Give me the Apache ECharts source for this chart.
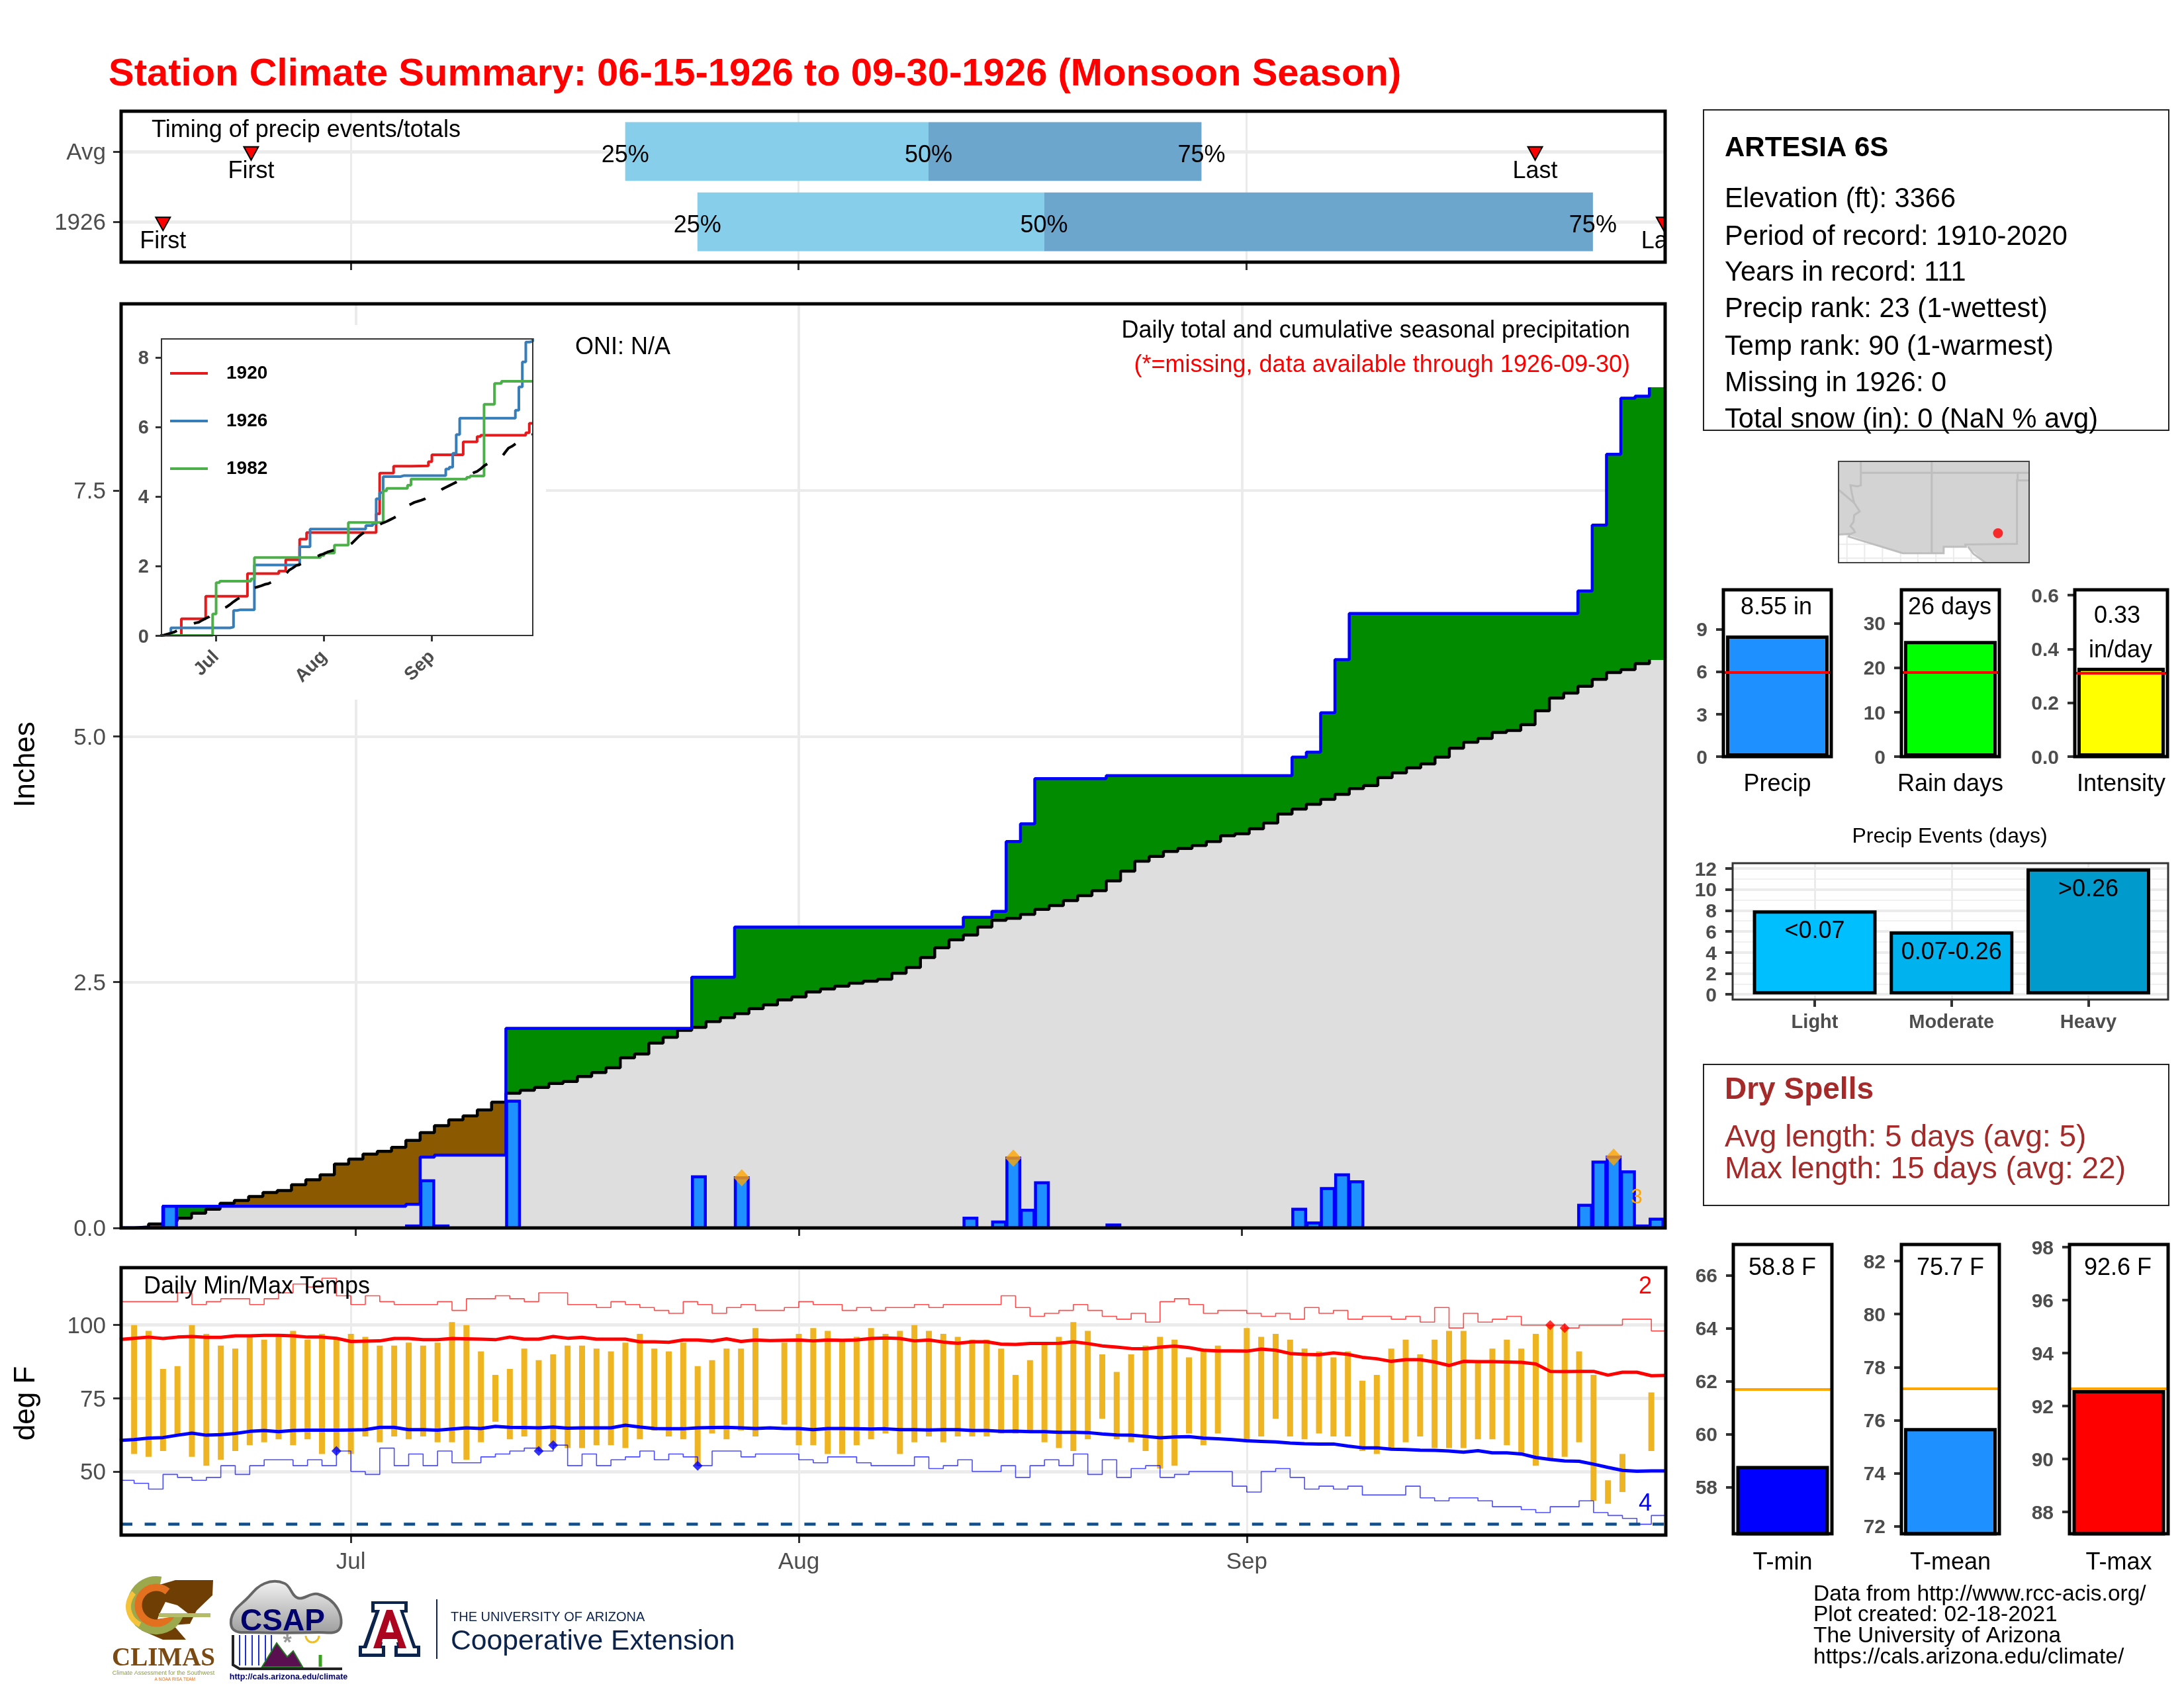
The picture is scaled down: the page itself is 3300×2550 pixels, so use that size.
<!DOCTYPE html>
<html>
<head>
<meta charset="utf-8">
<title>Station Climate Summary</title>
<script src="https://cdn.jsdelivr.net/npm/echarts@6/dist/echarts.min.js"></script>
<style>
  html, body { margin: 0; padding: 0; background: #fff; }
  #chart { width: 3300px; height: 2550px; }
</style>
</head>
<body>
<div id="chart"></div>
<script>
// month ticks, day 0 = June 15
var monthDays = [16, 47, 78]
var monthNames = ['Jul', 'Aug', 'Sep']

// timing of precip events (day of season)
var timingNames = ['1926', 'Avg']
var timingRow = [0, 1]
var timingFirst = [3, 9.1]
var timingLast = [106.9, 98]
var timing25 = [40, 35]
var timing50 = [64, 56]
var timing75 = [102, 74.9]

// daily precip 1926 (inches)
var dailyPrecip = [
  0, 0, 0, 0.22, 0, 0, 0, 0, 0, 0,
  0, 0, 0, 0, 0, 0, 0, 0, 0, 0,
  0.02, 0.48, 0.02, 0, 0, 0, 0, 1.29, 0, 0,
  0, 0, 0, 0, 0, 0, 0, 0, 0, 0,
  0.52, 0, 0, 0.51, 0, 0, 0, 0, 0, 0,
  0, 0, 0, 0, 0, 0, 0, 0, 0, 0.1,
  0, 0.06, 0.71, 0.18, 0.46, 0, 0, 0, 0, 0.03,
  0, 0, 0, 0, 0, 0, 0, 0, 0, 0,
  0, 0, 0.19, 0.05, 0.4, 0.54, 0.47, 0, 0, 0,
  0, 0, 0, 0, 0, 0, 0, 0, 0, 0,
  0, 0, 0.23, 0.67, 0.72, 0.57, 0.02, 0.09
]
// cumulative 1926
var cum1926 = [
  0, 0, 0, 0.22, 0.22, 0.22, 0.22, 0.22, 0.22, 0.22,
  0.22, 0.22, 0.22, 0.22, 0.22, 0.22, 0.22, 0.22, 0.22, 0.22,
  0.24, 0.72, 0.74, 0.74, 0.74, 0.74, 0.74, 2.03, 2.03, 2.03,
  2.03, 2.03, 2.03, 2.03, 2.03, 2.03, 2.03, 2.03, 2.03, 2.03,
  2.55, 2.55, 2.55, 3.06, 3.06, 3.06, 3.06, 3.06, 3.06, 3.06,
  3.06, 3.06, 3.06, 3.06, 3.06, 3.06, 3.06, 3.06, 3.06, 3.16,
  3.16, 3.22, 3.93, 4.11, 4.57, 4.57, 4.57, 4.57, 4.57, 4.6,
  4.6, 4.6, 4.6, 4.6, 4.6, 4.6, 4.6, 4.6, 4.6, 4.6,
  4.6, 4.6, 4.79, 4.84, 5.24, 5.78, 6.25, 6.25, 6.25, 6.25,
  6.25, 6.25, 6.25, 6.25, 6.25, 6.25, 6.25, 6.25, 6.25, 6.25,
  6.25, 6.25, 6.48, 7.15, 7.87, 8.44, 8.46, 8.55
]
// cumulative long term average
var cumAvg = [
  0, 0.01, 0.04, 0.07, 0.1, 0.15, 0.19, 0.25, 0.28, 0.32,
  0.36, 0.38, 0.44, 0.49, 0.54, 0.65, 0.7, 0.75, 0.78, 0.82,
  0.89, 0.97, 1.04, 1.1, 1.14, 1.2, 1.28, 1.37, 1.4, 1.43,
  1.47, 1.49, 1.54, 1.58, 1.63, 1.73, 1.77, 1.88, 1.94, 2.01,
  2.04, 2.1, 2.14, 2.18, 2.23, 2.27, 2.32, 2.35, 2.4, 2.43,
  2.46, 2.49, 2.51, 2.53, 2.59, 2.65, 2.75, 2.85, 2.93, 2.98,
  3.06, 3.13, 3.15, 3.19, 3.24, 3.28, 3.33, 3.38, 3.43, 3.53,
  3.63, 3.73, 3.78, 3.83, 3.86, 3.89, 3.93, 3.99, 4.01, 4.06,
  4.12, 4.21, 4.26, 4.31, 4.36, 4.41, 4.47, 4.5, 4.58, 4.63,
  4.68, 4.72, 4.79, 4.88, 4.94, 4.98, 5.04, 5.06, 5.12, 5.26,
  5.39, 5.44, 5.51, 5.58, 5.65, 5.68, 5.74, 5.78
]
// record daily precip markers [day, inches]
var precipRecords = [[43, 0.51], [62, 0.71], [104, 0.72]]

// inset analog years, change points [day, cumulative inches]
var steps1920 = [[0, 0], [6, 0.48], [13, 1.13], [25, 1.78], [34, 1.85], [36, 2.18], [40, 2.77], [42, 2.96], [62, 3.5], [63, 4.67], [67, 4.87], [72, 4.88], [77, 5.0], [78, 5.2], [87, 5.57], [91, 5.72], [92, 5.76], [105, 5.83], [106, 6.1], [107, 6.1]]
var steps1982 = [[0, 0], [15, 0.62], [16, 1.52], [17, 1.56], [26, 1.63], [27, 2.24], [46, 2.3], [47, 2.37], [50, 2.6], [54, 3.25], [64, 4.16], [65, 4.23], [71, 4.32], [72, 4.5], [88, 4.55], [89, 4.59], [93, 6.65], [96, 7.25], [98, 7.31], [107, 7.31]]

// daily temps (F)
var tempHigh = [
  null, 100, 98, 85, 86, 100, 97, 93, 92, 96,
  95, 96, 98, 95, 97, 95, 97, 96, 93, 93,
  94, 93, 94, 101, 100, 91, 83, 85, 92, 88,
  90, 93, 93, 92, 91, 94, 97, 92, 91, 94,
  86, 88, 92, 92, 99, null, 94, 97, 99, 98,
  95, 96, 99, 97, 98, 100, 98, 97, 96, 95,
  95, 92, 83, 88, 94, 96, 101, 98, 90, 84,
  90, 93, 96, 95, 89, 92, 93, null, 99, 96,
  97, 95, 92, 91, 89, 91, 81, 83, 92, 95,
  90, 95, 98, 98, 88, 92, 95, 92, 97, 100,
  99, 91, 83, 47, 56, null, 77, null
]
var tempLow = [
  null, 56, 55, 57, 62, 55, 52, 54, 57, 59,
  60, 61, 59, 61, 56, 57, 56, 62, 60, 62,
  61, 62, 60, 60, 54, 60, 67, 61, 62, 57,
  59, 58, 58, 59, 59, 58, 61, 64, 62, 61,
  52, 63, 61, 64, 62, null, 66, 59, 59, 56,
  56, 59, 61, 63, 56, 60, 62, 60, 62, 62,
  62, 63, 63, 64, 60, 58, 57, 61, 68, 61,
  60, 57, 51, 52, 63, 59, 63, null, 60, 62,
  68, 62, 61, 63, 62, 62, 57, 56, 58, 60,
  62, 58, 58, 58, 61, 61, 59, 56, 52, 54,
  55, 60, 40, 39, 43, null, 57, null
]
var normalHigh = [
  95.1, 95.5, 95.9, 95.4, 95.9, 96.1, 95.8, 95.8, 96.3, 96.3,
  96.5, 96.5, 96.3, 95.9, 95.9, 95.5, 94.4, 94.5, 94.6, 95.4,
  95.4, 95.0, 95.0, 95.4, 95.3, 95.2, 95.0, 95.9, 95.2, 95.2,
  96.1, 95.5, 95.8, 95.2, 95.2, 95.2, 94.3, 94.3, 94.1, 94.9,
  94.9, 94.5, 95.3, 94.4, 94.9, 94.7, 94.8, 94.9, 94.6, 94.9,
  94.8, 94.9, 95.4, 95.6, 95.4, 94.6, 94.9, 94.2, 93.8, 94.3,
  94.3, 93.5, 93.4, 93.7, 93.7, 93.8, 94.3, 93.7, 92.9, 92.5,
  92.0, 91.9, 92.5, 92.8, 92.3, 91.4, 91.2, 91.2, 91.1, 91.8,
  91.4, 90.3, 90.0, 89.9, 90.5, 90.0, 89.0, 88.5, 87.6, 88.2,
  88.2, 87.4, 86.2, 87.6, 87.5, 87.5, 87.4, 87.3, 86.7, 84.2,
  84.1, 84.2, 84.2, 82.9, 83.9, 83.9, 82.7, 82.8
]
var normalLow = [
  60.6, 60.9, 61.4, 61.6, 62.4, 63.1, 62.4, 62.6, 63.0, 63.7,
  64.0, 63.6, 64.0, 64.1, 64.1, 64.1, 64.2, 64.3, 65.1, 65.1,
  64.3, 64.3, 64.1, 64.5, 64.9, 64.7, 65.4, 65.1, 65.0, 64.9,
  65.2, 64.8, 64.9, 64.9, 64.9, 65.8, 65.2, 64.7, 64.6, 64.6,
  64.9, 65.0, 65.1, 64.9, 64.7, 64.9, 64.7, 64.7, 64.3, 64.7,
  64.7, 64.6, 64.5, 64.6, 64.3, 64.3, 64.2, 64.3, 64.3, 64.0,
  64.0, 63.7, 63.8, 63.6, 63.6, 63.4, 63.4, 63.3, 62.8, 62.5,
  62.4, 62.0, 61.5, 61.8, 61.9, 61.4, 61.2, 60.9, 60.5, 60.3,
  60.1, 59.7, 59.5, 59.4, 59.4, 58.7, 58.1, 58.1, 57.6, 57.5,
  57.3, 57.2, 57.0, 56.6, 57.1, 56.4, 56.4, 56.0, 54.8, 54.1,
  53.6, 53.5, 52.5, 51.4, 50.4, 50.1, 50.2, 50.2
]
var recordHigh = [
  108, 108, 108, 108, 111, 107, 108, 109, 109, 107,
  109, 111, 114, 113, 116, 110, 107, 110, 108, 107,
  107, 107, 108, 105, 109, 109, 110, 109, 108, 111,
  111, 107, 107, 106, 108, 107, 106, 105, 104, 108,
  107, 104, 106, 107, 105, 105, 106, 108, 107, 107,
  105, 106, 105, 106, 106, 107, 106, 107, 107, 107,
  107, 110, 106, 103, 104, 105, 107, 105, 103, 102,
  104, 101, 108, 109, 107, 104, 105, 105, 104, 103,
  104, 102, 106, 104, 105, 102, 103, 103, 102, 103,
  101, 106, 99, 104, 101, 102, 103, 100, 100, 100,
  99, 100, 100, 100, 102, 102, 98, 98
]
var recordLow = [
  47, 46, 44, 49, 48, 47, 48, 52, 49, 52,
  54, 54, 52, 54, 52, 57, 50, 49, 58, 52,
  56, 52, 57, 53, 53, 55, 56, 57, 58, 57,
  59, 52, 56, 52, 54, 55, 57, 54, 56, 55,
  52, 57, 57, 55, 56, 56, 56, 54, 53, 55,
  55, 53, 52, 52, 52, 55, 51, 52, 54, 50,
  50, 52, 48, 52, 54, 52, 56, 49, 54, 48,
  51, 52, 48, 49, 50, 50, 50, 45, 43, 50,
  51, 48, 44, 45, 44, 45, 42, 42, 42, 45,
  41, 40, 41, 41, 40, 38, 38, 37, 36, 38,
  38, 40, 36, 35, 34, 32, 35, 35
]
var recordLowHits = [[15, 57], [29, 57], [30, 59], [40, 52]]
var recordHighHits = [[99, 100], [100, 99]]
var freezeLine = 32

// summary bars
var precipTotal = 8.55, precipNormal = 5.95
var rainDays = 26, rainDaysNormal = 18.9
var intensity = 0.33, intensityNormal = 0.313
var eventNames = ['Light', 'Moderate', 'Heavy']
var eventDays = [8, 6, 12]
var eventLabels = ['<0.07', '0.07-0.26', '>0.26']
var tMin = 58.8, tMinNormal = 61.7
var tMean = 75.7, tMeanNormal = 77.2
var tMax = 92.6, tMaxNormal = 92.65

// locator map, polygons in map units
var mapLand = [[54, 385], [100, 385], [345, 467], [530, 467], [530, 438], [640, 438], [720, 510], [917, 510], [917, 52], [54, 52]]
var mapBorders = [
  [[155, 52], [155, 160], [140, 165], [108, 160], [115, 200], [125, 240], [150, 278], [125, 295], [122, 325], [108, 345], [122, 360], [128, 372], [105, 382], [100, 392], [345, 467], [530, 467], [530, 438], [630, 438], [628, 428], [862, 425], [862, 138], [917, 138]],
  [[155, 104], [917, 104]],
  [[865, 104], [865, 138]],
  [[476, 52], [476, 467]],
  [[54, 180], [125, 240]],
  [[54, 383], [105, 380]],
  [[640, 438], [665, 470], [720, 510]]
]
var mapGridX = [92, 172, 253, 335, 413, 495, 575, 655]
var mapGridY = [427, 490]
var stationPoint = [776, 377]

var FONT = 'Liberation Sans'
var GRID = '#EBEBEB'
var AXIS_TEXT = '#4D4D4D'

var chart = echarts.init(document.getElementById('chart'))

function gridBox(l, t, r, b) {
  return { left: l, top: t, width: r - l, height: b - t, containLabel: false }
}

function valueAxis(gridIndex, min, max, ticks, fmt, extra) {
  var ax = {
    type: 'value',
    gridIndex: gridIndex,
    min: min,
    max: max,
    axisLine: { show: false, onZero: false },
    axisTick: { show: true, customValues: ticks, length: 12, lineStyle: { color: '#333', width: 3 } },
    axisLabel: {
      show: true,
      customValues: ticks,
      formatter: fmt,
      color: AXIS_TEXT,
      fontFamily: FONT,
      fontSize: 35,
      margin: 23,
      hideOverlap: false,
      showMinLabel: true,
      showMaxLabel: true
    },
    splitLine: { show: false }
  }
  return Object.assign(ax, extra || {})
}

function gridLines(width) {
  return { show: true, lineStyle: { color: GRID, width: width } }
}

function monthName(v) {
  return monthNames[monthDays.indexOf(v)]
}

var grids = []
var xAxes = []
var yAxes = []
var series = []
var texts = []

function txt(s, x, y, font, fill, align, rot) {
  texts.push({
    type: 'text',
    x: x,
    y: rot ? y : y + 3,
    rotation: rot || 0,
    z: 20,
    silent: true,
    style: { text: s, font: font, fill: fill, align: align || 'left', textAlign: align || 'left', verticalAlign: 'middle', textVerticalAlign: 'middle' }
  })
}

function frame(l, t, r, b, w, color, fill) {
  texts.push({
    type: 'rect',
    z: fill ? 1 : 15,
    silent: true,
    shape: { x: l, y: t, width: r - l, height: b - t },
    style: { fill: fill || 'none', stroke: color, lineWidth: w }
  })
}

// ---- timing panel
grids.push(gridBox(183, 168, 2516, 396))
xAxes.push(valueAxis(0, 0.1, 107, monthDays, monthName, { axisLabel: { show: false }, splitLine: gridLines(3) }))
yAxes.push(valueAxis(0, -0.572, 1.572, timingRow, function (v) { return timingNames[v] }, { splitLine: gridLines(5) }))
frame(183, 168, 2516, 396, 5, '#000')

series.push({
  type: 'custom',
  xAxisIndex: 0,
  yAxisIndex: 0,
  z: 3,
  clip: true,
  encode: { x: 1, y: 0 },
  data: timingRow.map(function (r, i) {
    return [r, timing25[i], timing50[i], timing75[i]]
  }),
  renderItem: function (params, api) {
    var row = api.value(0)
    var h = api.size([0, 0.835])[1]
    var a = api.coord([api.value(1), row])
    var b = api.coord([api.value(2), row])
    var c = api.coord([api.value(3), row])
    var pct = function (p, s) {
      return { type: 'text', x: p[0], y: p[1] + 6, style: { text: s, font: '36px ' + FONT, fill: '#000', align: 'center', verticalAlign: 'middle' } }
    }
    return {
      type: 'group',
      children: [
        { type: 'rect', shape: { x: a[0], y: a[1] - h / 2, width: b[0] - a[0], height: h }, style: { fill: '#87CEEB' } },
        { type: 'rect', shape: { x: b[0], y: b[1] - h / 2, width: c[0] - b[0], height: h }, style: { fill: '#6CA6CD' } },
        pct(a, '25%'),
        pct(b, '50%'),
        pct(c, '75%')
      ]
    }
  }
})
var timingMarks = []
timingRow.forEach(function (r, i) {
  timingMarks.push([timingFirst[i], r, 0])
  timingMarks.push([timingLast[i], r, 1])
})
series.push({
  type: 'custom',
  xAxisIndex: 0,
  yAxisIndex: 0,
  z: 4,
  clip: true,
  encode: { x: 0, y: 1 },
  data: timingMarks,
  renderItem: function (params, api) {
    var p = api.coord([api.value(0), api.value(1)])
    return {
      type: 'group',
      children: [
        { type: 'polygon', shape: { points: [[p[0] - 11, p[1] - 7], [p[0] + 11, p[1] - 7], [p[0], p[1] + 13]] }, style: { fill: '#FF0000', stroke: '#000', lineWidth: 2 } },
        { type: 'text', x: p[0], y: p[1] + 30, style: { text: api.value(2) ? 'Last' : 'First', font: '36px ' + FONT, fill: '#000', align: 'center', verticalAlign: 'middle' } }
      ]
    }
  }
})

// ---- main precip panel
grids.push(gridBox(183, 459, 2516, 1855))
xAxes.push(valueAxis(1, -0.42, 107.6, monthDays, monthName, { axisLabel: { show: false }, splitLine: gridLines(4) }))
yAxes.push(valueAxis(1, 0, 9.4, [0, 2.5, 5, 7.5], function (v) { return v.toFixed(1) }, { splitLine: gridLines(4) }))
frame(183, 459, 2516, 1855, 5, '#000')

series.push({
  type: 'custom',
  xAxisIndex: 1,
  yAxisIndex: 1,
  z: 2,
  clip: true,
  encode: { x: 0, y: 1 },
  data: cumAvg.map(function (v, i) { return [i, v, cum1926[i]] }),
  renderItem: function (params, api) {
    var i = api.value(0)
    var a = api.value(1)
    var c = api.value(2)
    var x0 = Math.round(api.coord([i - 0.5, 0])[0])
    var x1 = Math.round(api.coord([i + 0.5, 0])[0])
    var y0 = Math.round(api.coord([0, 0])[1])
    var yl = Math.round(api.coord([0, Math.min(a, c)])[1])
    var yh = Math.round(api.coord([0, Math.max(a, c)])[1])
    return {
      type: 'group',
      children: [
        { type: 'rect', shape: { x: x0, y: yl, width: x1 - x0, height: y0 - yl }, style: { fill: '#DEDEDE' } },
        { type: 'rect', shape: { x: x0, y: yh, width: x1 - x0, height: yl - yh }, style: { fill: c >= a ? '#008B00' : '#8B5A00' } }
      ]
    }
  }
})
series.push({
  type: 'line',
  xAxisIndex: 1,
  yAxisIndex: 1,
  z: 3,
  step: 'end',
  symbol: 'none',
  lineStyle: { color: '#000', width: 4.5 },
  data: cumAvg.map(function (v, i) { return [i - 0.5, v] })
})
series.push({
  type: 'line',
  xAxisIndex: 1,
  yAxisIndex: 1,
  z: 3,
  step: 'end',
  symbol: 'none',
  lineStyle: { color: '#0000FF', width: 4.5 },
  data: cum1926.map(function (v, i) { return [i - 0.5, v] })
})
series.push({
  type: 'custom',
  xAxisIndex: 1,
  yAxisIndex: 1,
  z: 4,
  clip: true,
  encode: { x: 0, y: 1 },
  data: dailyPrecip.map(function (v, i) { return [i, v] }).filter(function (d) { return d[1] > 0 }),
  renderItem: function (params, api) {
    var top = api.coord([api.value(0), api.value(1)])
    var base = api.coord([api.value(0), 0])
    var w = api.size([0.9, 0])[0]
    return { type: 'rect', shape: { x: top[0] - w / 2, y: top[1], width: w, height: base[1] - top[1] }, style: { fill: '#1E90FF', stroke: '#0000FF', lineWidth: 4.5 } }
  }
})
series.push({
  type: 'scatter',
  xAxisIndex: 1,
  yAxisIndex: 1,
  z: 5,
  symbol: 'diamond',
  symbolSize: [24, 26],
  itemStyle: { color: '#FFA500' },
  data: precipRecords
})
txt('Inches', 40, 1155, '44px ' + FONT, '#000', 'center', Math.PI / 2)
txt('ONI: N/A', 869, 522, '36px ' + FONT, '#000')
txt('Daily total and cumulative seasonal precipitation', 2463, 497, '36px ' + FONT, '#000', 'right')
txt('(*=missing, data available through 1926-09-30)', 2463, 549, '36px ' + FONT, '#FF0000', 'right')
txt('3', 2473, 1806, '32px ' + FONT, '#FFA500', 'center')

// ---- temps panel
grids.push(gridBox(183, 1915, 2517, 2319))
xAxes.push(valueAxis(2, 0.1, 107, monthDays, monthName, { splitLine: gridLines(3) }))
xAxes[2].axisLabel.margin = 24
yAxes.push(valueAxis(2, 28.3, 119.6, [50, 75, 100], function (v) { return String(v) }, { splitLine: gridLines(5) }))
frame(183, 1915, 2517, 2319, 5, '#000')

var tempBars = []
tempHigh.forEach(function (h, i) {
  if (h !== null) tempBars.push([i, tempLow[i], h])
})
series.push({
  type: 'custom',
  xAxisIndex: 2,
  yAxisIndex: 2,
  z: 2,
  clip: true,
  encode: { x: 0, y: 2 },
  data: tempBars,
  renderItem: function (params, api) {
    var lo = api.coord([api.value(0), api.value(1)])
    var hi = api.coord([api.value(0), api.value(2)])
    return { type: 'rect', shape: { x: lo[0] - 4.5, y: hi[1], width: 9, height: lo[1] - hi[1] }, style: { fill: '#EEB422' } }
  },
  markLine: {
    silent: true,
    symbol: 'none',
    animation: false,
    label: { show: false },
    lineStyle: { color: '#104E8B', width: 4.5, type: [17, 18.6] },
    data: [{ yAxis: freezeLine }]
  }
})
function tempLine(values, color, width, step, opacity) {
  series.push({
    type: 'line',
    xAxisIndex: 2,
    yAxisIndex: 2,
    z: 3,
    step: step,
    symbol: 'none',
    lineStyle: { color: color, width: width, opacity: opacity },
    data: values.map(function (v, i) { return [i, v] })
  })
}
tempLine(recordHigh, '#FF0000', 1.6, 'end', 0.7)
tempLine(recordLow, '#0000FF', 1.6, 'end', 0.7)
tempLine(normalHigh, '#FF0000', 5, false, 1)
tempLine(normalLow, '#0000FF', 5, false, 1)
series.push({
  type: 'scatter', xAxisIndex: 2, yAxisIndex: 2, z: 5, symbol: 'diamond', symbolSize: 15,
  itemStyle: { color: '#0000FF' }, data: recordLowHits
})
series.push({
  type: 'scatter', xAxisIndex: 2, yAxisIndex: 2, z: 5, symbol: 'diamond', symbolSize: 15,
  itemStyle: { color: '#FF0000' }, data: recordHighHits
})
txt('deg F', 40, 2120, '44px ' + FONT, '#000', 'center', Math.PI / 2)
txt('Daily Min/Max Temps', 217, 1941, '36px ' + FONT, '#000')
txt('2', 2486, 1941, '36px ' + FONT, '#FF0000', 'center')
txt('4', 2486, 2269, '36px ' + FONT, '#0000FF', 'center')

// ---- inset of analog years
grids.push(gridBox(244, 512, 805, 960))
xAxes.push(valueAxis(3, 0.3, 107, monthDays, monthName, {
  z: 6,
  axisTick: { show: true, customValues: monthDays, length: 9, lineStyle: { color: '#333', width: 3 } },
  axisLabel: { show: true, customValues: monthDays, formatter: monthName, color: AXIS_TEXT, fontFamily: FONT, fontWeight: 'bold', fontSize: 28, rotate: 45, margin: 28 }
}))
yAxes.push(valueAxis(3, 0, 8.53, [0, 2, 4, 6, 8], function (v) { return String(v) }, {
  z: 6,
  axisTick: { show: true, customValues: [0, 2, 4, 6, 8], length: 9, lineStyle: { color: '#333', width: 3 } },
  axisLabel: { show: true, customValues: [0, 2, 4, 6, 8], formatter: function (v) { return String(v) }, color: AXIS_TEXT, fontFamily: FONT, fontWeight: 'bold', fontSize: 29, margin: 19 }
}))
frame(180, 491, 825, 1057, 0, 'none', '#fff')
frame(244, 512, 805, 960, 2, '#333')

function insetLine(name, data, color, dash) {
  series.push({
    type: 'line',
    name: name,
    xAxisIndex: 3,
    yAxisIndex: 3,
    z: dash ? 8 : 7,
    step: dash ? false : 'end',
    symbol: 'none',
    lineStyle: { color: color, width: 4, type: dash ? [26, 28] : 'solid' },
    itemStyle: { color: color },
    data: data
  })
}
insetLine('1920', steps1920, '#E41A1C')
insetLine('1926', cum1926.map(function (v, i) { return [i, v] }), '#377EB8')
insetLine('1982', steps1982, '#4DAF4A')
insetLine('avg', cumAvg.map(function (v, i) { return [i, v] }), '#000', true)

// ---- single value bars
function statPanel(l, r, top, bottom, min, max, ticks, fmt, name, value, color, normal, normalColor, barW, margin) {
  var g = grids.length
  grids.push(gridBox(l, top, r, bottom))
  xAxes.push({
    type: 'category',
    gridIndex: g,
    data: [name],
    axisLine: { show: false, onZero: false },
    axisTick: { show: false },
    axisLabel: { color: '#000', fontFamily: FONT, fontSize: 36, margin: margin }
  })
  yAxes.push(valueAxis(g, min, max, ticks, fmt, {
    axisTick: { show: true, customValues: ticks, length: 11, lineStyle: { color: '#333', width: 4 } },
    axisLabel: { show: true, customValues: ticks, formatter: fmt, color: AXIS_TEXT, fontFamily: FONT, fontWeight: 'bold', fontSize: 30, margin: 24 }
  }))
  series.push({
    type: 'bar',
    xAxisIndex: g,
    yAxisIndex: g,
    z: 3,
    barWidth: barW,
    itemStyle: { color: color, borderColor: '#000', borderWidth: 5 },
    data: [value],
    markLine: {
      silent: true,
      symbol: 'none',
      animation: false,
      z: 6,
      label: { show: false },
      lineStyle: { color: normalColor, width: 4, type: 'solid' },
      data: [{ yAxis: normal }]
    }
  })
  frame(l, top, r, bottom, 5, '#000')
}
function intLabel(v) { return String(v) }
statPanel(2604, 2767, 891, 1143, 0, 11.78, [0, 3, 6, 9], intLabel, 'Precip', precipTotal, '#1E90FF', precipNormal, '#FF0000', 155, 24)
statPanel(2873, 3021, 891, 1143, 0, 37.5, [0, 10, 20, 30], intLabel, 'Rain days', rainDays, '#00FF00', rainDaysNormal, '#FF0000', 140, 24)
statPanel(3135, 3275, 891, 1143, 0, 0.62, [0, 0.2, 0.4, 0.6], function (v) { return v.toFixed(1) }, 'Intensity', intensity, '#FFFF00', intensityNormal, '#FF0000', 132, 24)
txt('8.55 in', 2684, 915, '36px ' + FONT, '#000', 'center')
txt('26 days', 2946, 915, '36px ' + FONT, '#000', 'center')
txt('0.33', 3199, 928, '36px ' + FONT, '#000', 'center')
txt('in/day', 3204, 980, '36px ' + FONT, '#000', 'center')

statPanel(2619, 2768, 1880, 2317, 56.235, 67.16, [58, 60, 62, 64, 66], intLabel, 'T-min', tMin, '#0000FF', tMinNormal, '#FFA500', 140, 26)
statPanel(2873, 3021, 1880, 2317, 71.71, 82.63, [72, 74, 76, 78, 80, 82], intLabel, 'T-mean', tMean, '#1E90FF', tMeanNormal, '#FFA500', 140, 26)
statPanel(3127, 3276, 1880, 2317, 87.17, 98.1, [88, 90, 92, 94, 96, 98], intLabel, 'T-max', tMax, '#FF0000', tMaxNormal, '#FFA500', 140, 26)
txt('58.8 F', 2693, 1913, '36px ' + FONT, '#000', 'center')
txt('75.7 F', 2947, 1913, '36px ' + FONT, '#000', 'center')
txt('92.6 F', 3200, 1913, '36px ' + FONT, '#000', 'center')

// ---- precip events
var evGrid = grids.length
grids.push(gridBox(2618, 1304, 3276, 1510))
xAxes.push(valueAxis(evGrid, 0.4, 3.583, [1, 2, 3], function (v) { return eventNames[v - 1] }, {
  splitLine: gridLines(3),
  axisTick: { show: true, customValues: [1, 2, 3], length: 11, lineStyle: { color: '#333', width: 4 } },
  axisLabel: { show: true, customValues: [1, 2, 3], formatter: function (v) { return eventNames[v - 1] }, color: AXIS_TEXT, fontFamily: FONT, fontWeight: 'bold', fontSize: 29, margin: 20 }
}))
yAxes.push(valueAxis(evGrid, -0.49, 12.49, [0, 2, 4, 6, 8, 10, 12], intLabel, {
  splitLine: gridLines(4),
  axisTick: { show: true, customValues: [0, 2, 4, 6, 8, 10, 12], length: 11, lineStyle: { color: '#333', width: 4 } },
  axisLabel: { show: true, customValues: [0, 2, 4, 6, 8, 10, 12], formatter: intLabel, color: AXIS_TEXT, fontFamily: FONT, fontWeight: 'bold', fontSize: 30, margin: 24 }
}))
var evColors = ['#00BFFF', '#00B2EE', '#009ACD']
series.push({
  type: 'bar',
  xAxisIndex: evGrid,
  yAxisIndex: evGrid,
  z: 3,
  barWidth: 187,
  itemStyle: { borderColor: '#000', borderWidth: 5 },
  label: {
    show: true,
    position: 'insideTop',
    distance: 14,
    color: '#000',
    fontFamily: FONT,
    fontSize: 36,
    formatter: function (p) { return eventLabels[p.dataIndex] }
  },
  data: eventDays.map(function (v, i) {
    return { value: [i + 1, v], itemStyle: { color: evColors[i] } }
  })
})
frame(2618, 1304, 3276, 1510, 3, '#333')
txt('Precip Events (days)', 2946, 1261, '32px ' + FONT, '#000', 'center')

// ---- locator map
var mapGrid = grids.length
grids.push(gridBox(2778, 697, 3066, 850))
xAxes.push({ type: 'value', gridIndex: mapGrid, min: 54, max: 917, show: false })
yAxes.push({ type: 'value', gridIndex: mapGrid, min: 52, max: 510, inverse: true, show: false })
series.push({
  type: 'custom',
  xAxisIndex: mapGrid,
  yAxisIndex: mapGrid,
  z: 2,
  clip: true,
  encode: { x: 0, y: 1 },
  data: [[100, 100]],
  renderItem: function (params, api) {
    var kids = []
    mapGridX.forEach(function (x) {
      var a = api.coord([x, 380])
      var b = api.coord([x, 510])
      kids.push({ type: 'line', shape: { x1: a[0], y1: a[1], x2: b[0], y2: b[1] }, style: { stroke: GRID, lineWidth: 2 } })
    })
    mapGridY.forEach(function (y) {
      var a = api.coord([54, y])
      var b = api.coord([720, y])
      kids.push({ type: 'line', shape: { x1: a[0], y1: a[1], x2: b[0], y2: b[1] }, style: { stroke: GRID, lineWidth: 2 } })
    })
    kids.push({ type: 'polygon', shape: { points: mapLand.map(function (p) { return api.coord(p) }) }, style: { fill: '#D3D3D3' } })
    mapBorders.forEach(function (line) {
      kids.push({ type: 'polyline', shape: { points: line.map(function (p) { return api.coord(p) }) }, style: { stroke: '#BEBEBE', fill: 'none', lineWidth: 3 } })
    })
    return { type: 'group', children: kids }
  }
})
series.push({
  type: 'scatter',
  xAxisIndex: mapGrid,
  yAxisIndex: mapGrid,
  z: 4,
  symbolSize: 15,
  itemStyle: { color: '#FF0000' },
  data: [stationPoint]
})
frame(2778, 697, 3066, 850, 2, '#444')

// odd minor grid lines of the events panel sit on a label-less second y axis
yAxes.push({
  type: 'value',
  gridIndex: evGrid,
  position: 'left',
  min: -0.49,
  max: 12.49,
  axisLine: { show: false, onZero: false },
  axisLabel: { show: false, customValues: [1, 3, 5, 7, 9, 11] },
  axisTick: { show: false, customValues: [1, 3, 5, 7, 9, 11] },
  splitLine: { show: true, lineStyle: { color: '#F0F0F0', width: 2 } }
})

// a small line box hung from the tick keeps y labels centred on their ticks
yAxes.forEach(function (ax) {
  if (ax.axisLabel && ax.axisLabel.show) {
    ax.axisLabel.verticalAlign = 'top'
    ax.axisLabel.lineHeight = 5
  }
})

// ---- text boxes
frame(2574, 166, 3277, 650, 2, '#222')
txt('ARTESIA 6S', 2606, 221, 'bold 42px ' + FONT, '#000')
var infoLines = ['Elevation (ft): 3366', 'Period of record: 1910-2020', 'Years in record: 111', 'Precip rank: 23 (1-wettest)', 'Temp rank: 90 (1-warmest)', 'Missing in 1926: 0', 'Total snow (in): 0 (NaN % avg)']
var infoY = [299, 356, 410, 465, 522, 577, 632]
infoLines.forEach(function (s, i) { txt(s, 2606, infoY[i], '41.6px ' + FONT, '#000') })

frame(2574, 1608, 3277, 1821, 2, '#222')
txt('Dry Spells', 2606, 1644, 'bold 46px ' + FONT, '#A52A2A')
txt('Avg length: 5 days (avg: 5)', 2606, 1716, '46px ' + FONT, '#A52A2A')
txt('Max length: 15 days (avg: 22)', 2606, 1764, '46px ' + FONT, '#A52A2A')

var credits = ['Data from http://www.rcc-acis.org/', 'Plot created: 02-18-2021', 'The University of Arizona', 'https://cals.arizona.edu/climate/']
var creditsY = [2406, 2437, 2469, 2501]
credits.forEach(function (s, i) { txt(s, 2740, creditsY[i], '33.5px ' + FONT, '#000') })

txt('Station Climate Summary: 06-15-1926 to 09-30-1926 (Monsoon Season)', 164, 110, 'bold 58px ' + FONT, '#FF0000')
txt('Timing of precip events/totals', 229, 194, '36px ' + FONT, '#000')

// ---- logos (plain shapes and text)
function shape(type, sh, style) {
  texts.push({ type: type, z: 5, silent: true, shape: sh, style: style })
}
// CLIMAS
shape('polygon', { points: [[322, 2387], [321, 2410], [297, 2433], [287, 2453], [262, 2455], [281, 2477], [246, 2477], [214, 2463], [198, 2433], [211, 2403], [265, 2387]] }, { fill: '#6E3E05' })
shape('arc', { cx: 236, cy: 2425, r: 38, startAngle: 0.4, endAngle: 4.9 }, { stroke: '#9BA84C', fill: 'none', lineWidth: 12 })
shape('arc', { cx: 236, cy: 2425, r: 27, startAngle: 0.1, endAngle: 5.4 }, { stroke: '#E2701E', fill: 'none', lineWidth: 11 })
shape('polygon', { points: [[240, 2440], [250, 2420], [268, 2425], [285, 2438], [238, 2446]] }, { fill: '#fff' })
shape('arc', { cx: 224, cy: 2427, r: 30, startAngle: 2.0, endAngle: 3.9 }, { stroke: '#F5C33B', fill: 'none', lineWidth: 8 })
shape('line', { x1: 240, y1: 2440, x2: 318, y2: 2440 }, { stroke: '#B4BC68', lineWidth: 6 })
txt('CLIMAS', 247, 2503, 'bold 39px "Liberation Serif"', '#7B4A12', 'center')
txt('Climate Assessment for the Southwest', 247, 2525, '9px ' + FONT, '#8A9A3C', 'center')
txt('A NOAA RISA TEAM', 295, 2534, '6.5px ' + FONT, '#E2701E', 'right')
// CSAP
shape('polygon', {
  smooth: 0.4,
  points: [[353, 2462], [351, 2440], [372, 2416], [400, 2392], [430, 2392], [450, 2414], [480, 2408], [510, 2430], [512, 2462], [480, 2466], [380, 2466]]
}, { stroke: '#666', lineWidth: 4, fill: new echarts.graphic.LinearGradient(0, 0, 0, 1, [{ offset: 0, color: '#F4F4F4' }, { offset: 1, color: '#9C9C9C' }]) })
txt('CSAP', 427, 2447, 'bold 46px ' + FONT, '#00006E', 'center')
;[362, 371, 381, 391, 401, 410].forEach(function (x) {
  shape('line', { x1: x, y1: 2470, x2: x, y2: 2516 }, { stroke: '#2030D0', lineWidth: 2 })
})
shape('polyline', { points: [[352, 2470], [352, 2515], [362, 2521], [517, 2521]] }, { stroke: '#222', fill: 'none', lineWidth: 4 })
shape('polygon', { points: [[396, 2518], [418, 2482], [434, 2503], [443, 2494], [457, 2518]] }, { fill: '#5A0F50', stroke: '#1E7B1E', lineWidth: 2 })
shape('arc', { cx: 472, cy: 2471, r: 10, startAngle: 0, endAngle: Math.PI }, { stroke: '#F0C020', fill: 'none', lineWidth: 3 })
txt('*', 434, 2480, 'bold 34px ' + FONT, '#999', 'center')
shape('line', { x1: 484, y1: 2500, x2: 484, y2: 2518 }, { stroke: '#3AA020', lineWidth: 5 })
txt('http://cals.arizona.edu/climate', 436, 2531, 'bold 12.5px ' + FONT, '#00006E', 'center')
// University of Arizona block
shape('polygon', { points: [[561, 2419], [616, 2419], [616, 2436], [610, 2436], [628, 2486], [635, 2486], [635, 2503], [596, 2503], [596, 2486], [600, 2486], [598, 2477], [579, 2477], [577, 2486], [582, 2486], [582, 2503], [542, 2503], [542, 2486], [549, 2486], [567, 2436], [561, 2436]] }, { fill: '#0C234B' })
shape('polygon', { points: [[566, 2423], [611, 2423], [611, 2432], [604, 2432], [624, 2490], [630, 2490], [630, 2498], [601, 2498], [601, 2490], [605, 2490], [602, 2481], [576, 2481], [573, 2490], [577, 2490], [577, 2498], [547, 2498], [547, 2490], [554, 2490], [574, 2432], [566, 2432]] }, { fill: '#fff' })
shape('polygon', { points: [[584, 2432], [593, 2432], [614, 2490], [603, 2490], [600, 2476], [578, 2476], [575, 2490], [564, 2490]] }, { fill: '#AB0520' })
shape('polygon', { points: [[589, 2447], [595, 2466], [583, 2466]] }, { fill: '#fff' })
shape('line', { x1: 660, y1: 2416, x2: 660, y2: 2506 }, { stroke: '#0C234B', lineWidth: 2 })
txt('THE UNIVERSITY OF ARIZONA', 681, 2440, '20px ' + FONT, '#0C234B')
txt('Cooperative Extension', 681, 2477, '42.7px ' + FONT, '#0C234B')

chart.setOption({
  animation: false,
  backgroundColor: '#fff',
  grid: grids,
  xAxis: xAxes,
  yAxis: yAxes,
  series: series,
  legend: {
    left: 257,
    top: 550,
    padding: 0,
    orient: 'vertical',
    icon: 'rect',
    itemWidth: 57,
    itemHeight: 4,
    itemGap: 44,
    data: ['1920', '1926', '1982'],
    selectedMode: false,
    z: 9,
    textStyle: { fontFamily: FONT, fontWeight: 'bold', fontSize: 28, color: '#000', padding: [0, 0, 0, 23] }
  },
  graphic: { elements: texts }
})

window.addEventListener('resize', function () {
  chart.resize()
})
</script>
</body>
</html>
